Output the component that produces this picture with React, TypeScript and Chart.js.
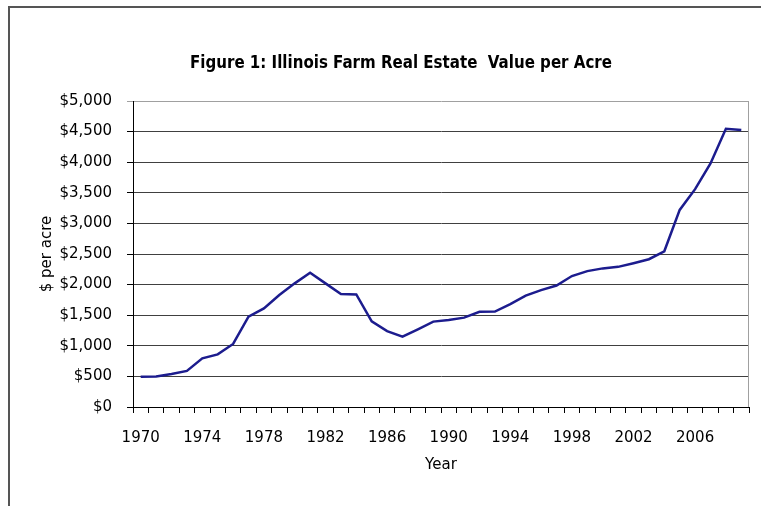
import React, { useEffect, useRef } from "react";
import { Chart, registerables } from "chart.js";

Chart.register(...registerables);

const chartTitle = "Figure 1: Illinois Farm Real Estate  Value per Acre";
const yAxisTitle = "$ per acre";
const xAxisTitle = "Year";

const years = [
  "1970", "1971", "1972", "1973", "1974", "1975", "1976", "1977", "1978", "1979",
  "1980", "1981", "1982", "1983", "1984", "1985", "1986", "1987", "1988", "1989",
  "1990", "1991", "1992", "1993", "1994", "1995", "1996", "1997", "1998", "1999",
  "2000", "2001", "2002", "2003", "2004", "2005", "2006", "2007", "2008", "2009",
];

const valuePerAcre = [
  495, 500, 540, 590, 795, 860, 1030, 1475, 1610, 1830,
  2020, 2195, 2020, 1845, 1840, 1400, 1240, 1150, 1270, 1395,
  1420, 1460, 1555, 1560, 1680, 1820, 1910, 1985, 2140, 2220,
  2265, 2290, 2350, 2415, 2545, 3220, 3560, 3980, 4545, 4525,
];

const yMin = 0;
const yMax = 5000;
const yStep = 500;
const xLabelEvery = 4;

export default function App() {
  const ref = useRef<HTMLCanvasElement>(null);

  useEffect(() => {
    if (!ref.current) return;
    const font = { family: "'DejaVu Sans', sans-serif", size: 15 };

    const titlePlugin = {
      id: "figTitle",
      afterDraw(chart: any) {
        const ctx = chart.ctx;
        ctx.save();
        ctx.font = "bold 18px 'Liberation Sans Narrow', 'DejaVu Sans Condensed', sans-serif";
        ctx.fillStyle = "#000";
        ctx.textAlign = "center";
        ctx.textBaseline = "middle";
        const w = ctx.measureText(chartTitle).width;
        const target = 422;
        const sx = w > target ? target / w : 1;
        ctx.translate(401, 63);
        ctx.scale(sx, 1);
        ctx.fillText(chartTitle, 0, 0);
        ctx.restore();
      },
    };

    const rightBorderPlugin = {
      id: "rightBorder",
      beforeDatasetsDraw(chart: any) {
        const { ctx, chartArea } = chart;
        ctx.save();
        ctx.strokeStyle = "#a0a0a0";
        ctx.lineWidth = 1;
        ctx.beginPath();
        ctx.moveTo(chartArea.right - 0.5, chartArea.top);
        ctx.lineTo(chartArea.right - 0.5, chartArea.bottom);
        ctx.stroke();
        ctx.restore();
      },
    };

    const chart = new Chart(ref.current, {
      type: "line",
      data: {
        labels: years,
        datasets: [
          {
            data: valuePerAcre,
            borderColor: "#1c1c8e",
            borderWidth: 2.5,
            pointRadius: 0,
            tension: 0,
            fill: false,
          },
        ],
      },
      options: {
        responsive: false,
        animation: false,
        devicePixelRatio: 1,
        layout: { padding: { left: 30, top: 101, right: 12, bottom: 19 } },
        plugins: {
          legend: { display: false },
          tooltip: { enabled: false },
          title: { display: false },
        },
        scales: {
          x: {
            type: "category",
            offset: true,
            grid: {
              offset: true,
              drawOnChartArea: false,
              tickLength: 6,
              tickColor: "#000",
            },
            border: { color: "#000", width: 1 },
            ticks: {
              autoSkip: false,
              maxRotation: 0,
              minRotation: 0,
              padding: 16,
              color: "#000",
              font,
              callback: (_v: any, i: number) => (i % xLabelEvery === 0 ? years[i] : ""),
            },
            title: {
              display: true,
              text: xAxisTitle,
              color: "#000",
              font,
              padding: { top: 4, bottom: 13 },
            },
            afterFit: (s: any) => {
              s.height = 80;
            },
          },
          y: {
            min: yMin,
            max: yMax,
            ticks: {
              stepSize: yStep,
              padding: 15,
              color: "#000",
              font,
              callback: (v: any) => "$" + Number(v).toLocaleString("en-US"),
            },
            grid: {
              color: (c: any) => (c.tick && c.tick.value === yMax ? "#a0a0a0" : "#404040"),
              tickColor: (c: any) => (c.tick && c.tick.value === yMax ? "#a0a0a0" : "#000"),
              tickLength: 6,
              lineWidth: 1,
            },
            border: { color: "#000", width: 1 },
            title: {
              display: true,
              text: yAxisTitle,
              color: "#000",
              font,
              padding: { top: 8, bottom: 0 },
            },
            afterFit: (s: any) => {
              s.width = 103;
            },
          },
        },
      },
      plugins: [titlePlugin, rightBorderPlugin],
    } as any);

    return () => chart.destroy();
  }, []);

  return (
    <div style={{ position: "relative", width: 761, height: 506, overflow: "hidden" }}>
      <style>{`html,body{margin:0;padding:0;overflow:hidden;background:#fff;}`}</style>
      <div
        style={{
          position: "absolute",
          left: 8,
          top: 6,
          width: 820,
          height: 620,
          border: "2px solid #555",
          boxSizing: "border-box",
        }}
      />
      <canvas
        ref={ref}
        width={761}
        height={506}
        style={{ position: "absolute", left: 0, top: 0, width: 761, height: 506 }}
      />
    </div>
  );
}
